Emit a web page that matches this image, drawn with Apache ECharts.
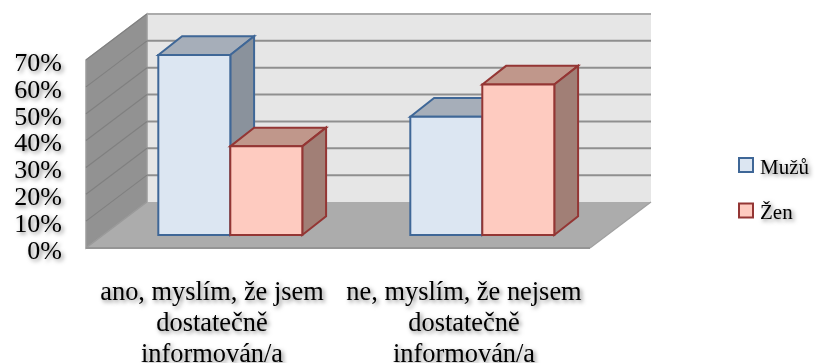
<!DOCTYPE html>
<html><head><meta charset="utf-8">
<style>html,body{margin:0;padding:0;background:#fff}#c{width:824px;height:363px}</style>
<script src="https://cdn.jsdelivr.net/npm/echarts@6/dist/echarts.min.js"></script>
</head><body><div id="c"></div>
<script>
const categories = ['ano, myslím, že jsem\ndostatečně\ninformován/a', 'ne, myslím, že nejsem\ndostatečně\ninformován/a'];
const muzu = [67, 44];
const zen = [33, 56];
const ticks = [0, 10, 20, 30, 40, 50, 60, 70];
const seriesNames = ['Mužů', 'Žen'];

const DEPTH_X = 61, DEPTH_Y = 46;   // projected depth of the whole floor
const FRONT_X = 0.3, FRONT_Y = 0.283, BACK = 0.69;   // bar depth position within the floor
const BAR_W = 0.2857;               // bar width as share of the category band

const shadow = {textShadowColor:'rgba(0,0,0,0.5)', textShadowBlur:4, textShadowOffsetX:2, textShadowOffsetY:2};
const font = {fontFamily:'Liberation Serif', color:'#000'};

function poly(points, fill, stroke, lw){
  return {type:'polygon', shape:{points}, style:{fill, stroke:stroke||'none', lineWidth:lw||0, lineJoin:'miter'}};
}
function renderWalls(params, api){
  const c = params.coordSys, L=c.x, R=c.x+c.width, B=c.y+c.height, T=c.y;
  return {type:'group', children:[
    poly([[L+DEPTH_X,T-DEPTH_Y],[R+DEPTH_X,T-DEPTH_Y],[R+DEPTH_X,B-DEPTH_Y],[L+DEPTH_X,B-DEPTH_Y]],'#e6e6e6'),
    poly([[L,T],[L+DEPTH_X,T-DEPTH_Y],[L+DEPTH_X,B-DEPTH_Y],[L,B]],'#929292','#9c9c9c',1.5),
    poly([[L,B],[L+DEPTH_X,B-DEPTH_Y],[R+DEPTH_X,B-DEPTH_Y],[R,B]],'#acacac')
  ]};
}
function renderGrid(params, api){
  const c = params.coordSys, L=c.x, R=c.x+c.width;
  const v = api.value(0);
  const y = api.coord([0, v])[1];
  const light = v===70 ? '#ababab' : '#8f8f8f';
  const kids = [
    {type:'line', shape:{x1:L,y1:y,x2:L+DEPTH_X,y2:y-DEPTH_Y}, style:{stroke:v===0?'#9a9a9a':'#808080', lineWidth:1.2}}
  ];
  if(v===0){
    kids.push({type:'line', shape:{x1:L,y1:y,x2:R,y2:y}, style:{stroke:'#959595', lineWidth:2}});
    kids.push({type:'line', shape:{x1:R,y1:y,x2:R+DEPTH_X,y2:y-DEPTH_Y}, style:{stroke:'#a0a0a0', lineWidth:1.2}});
  } else {
    kids.push({type:'line', shape:{x1:L+DEPTH_X,y1:y-DEPTH_Y,x2:R+DEPTH_X,y2:y-DEPTH_Y}, style:{stroke:light, lineWidth:2}});
  }
  return {type:'group', children:kids};
}
function barRenderer(idx, front, top, side, edge){
  return function(params, api){
    const band = api.size([1,0])[0];
    const w = band*BAR_W;
    const p = api.coord([api.value(0), api.value(1)]);
    const base = api.coord([api.value(0), 0]);
    const x0 = p[0] + DEPTH_X*FRONT_X + (idx-1)*w;
    const x1 = x0 + w;
    const yb = base[1] - DEPTH_Y*FRONT_Y;
    const yt = p[1] - DEPTH_Y*FRONT_Y;
    const dx = DEPTH_X*(BACK-FRONT_X), dy = DEPTH_Y*(BACK-FRONT_Y);
    return {type:'group', children:[
      poly([[x0,yt],[x0+dx,yt-dy],[x1+dx,yt-dy],[x1,yt]], top, edge, 2),
      poly([[x1,yt],[x1+dx,yt-dy],[x1+dx,yb-dy],[x1,yb]], side, edge, 2),
      poly([[x0,yt],[x1,yt],[x1,yb],[x0,yb]], front, edge, 2)
    ]};
  };
}
const chart = echarts.init(document.getElementById('c'), null, {renderer:'canvas'});
chart.setOption({
  animation:false,
  backgroundColor:'#fff',
  grid:{left:86, top:60, width:504, height:188, outerBoundsMode:'none'},
  legend:{
    data:seriesNames, orient:'vertical', left:738, top:157, padding:0, itemWidth:14, itemHeight:14, itemGap:24,
    icon:'rect', formatter:'{t|{name}}',
    textStyle:{...font, fontSize:21, ...shadow,
      rich:{t:{...font, fontSize:21, ...shadow, padding:[6,0,0,2]}}}
  },
  xAxis:{type:'category', data:categories, axisLine:{show:false}, axisTick:{show:false}, splitLine:{show:false},
    axisLabel:{...font, ...shadow, fontSize:26.4, lineHeight:31, margin:30, interval:0, hideOverlap:false}},
  yAxis:{type:'value', min:0, max:70, interval:10, axisLine:{show:false}, axisTick:{show:false}, splitLine:{show:false},
    axisLabel:{...font, ...shadow, fontSize:26, margin:24, lineHeight:8, verticalAlign:'top', formatter:'{value}%'}},
  series:[
    {type:'custom', name:'walls', silent:true, z:1, coordinateSystem:'cartesian2d', renderItem:renderWalls, data:[[0]], encode:{y:0}},
    {type:'custom', name:'grid', silent:true, z:2, coordinateSystem:'cartesian2d', renderItem:renderGrid, data:ticks.map(t=>[t]), encode:{y:0}},
    {type:'custom', name:seriesNames[0], z:3, coordinateSystem:'cartesian2d',
      itemStyle:{color:'#dce6f2', borderColor:'#3f6797', borderWidth:2},
      renderItem:barRenderer(0,'#dce6f2','#a6aeb9','#8a929c','#3f6797'),
      data:muzu.map((v,i)=>[i,v]), encode:{x:0,y:1}},
    {type:'custom', name:seriesNames[1], z:4, coordinateSystem:'cartesian2d',
      itemStyle:{color:'#fecbc0', borderColor:'#943634', borderWidth:2},
      renderItem:barRenderer(1,'#fecbc0','#c0978b','#a17f76','#943634'),
      data:zen.map((v,i)=>[i,v]), encode:{x:0,y:1}}
  ]
});
</script></body></html>
